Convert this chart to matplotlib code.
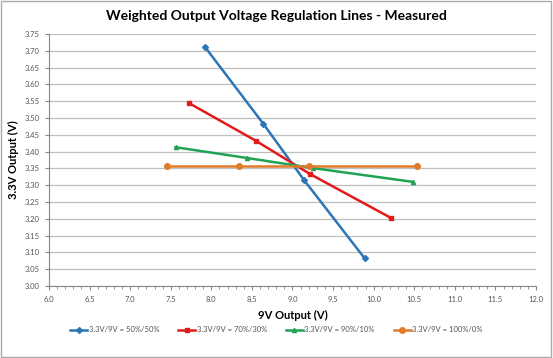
import matplotlib
matplotlib.use("Agg")
import matplotlib.pyplot as plt
from matplotlib.ticker import MultipleLocator, FormatStrFormatter
from matplotlib.patches import Rectangle

plt.rcParams["font.family"] = ["Lato", "DejaVu Sans"]

# Measured points (9V output, 3.3V output)
x_50 = [7.92, 8.64, 9.14, 9.89]
y_50 = [3.712, 3.483, 3.316, 3.082]
x_70 = [7.72, 8.55, 9.21, 10.21]
y_70 = [3.545, 3.432, 3.334, 3.203]
x_90 = [7.56, 8.44, 9.25, 10.48]
y_90 = [3.413, 3.381, 3.351, 3.310]
x_100 = [7.45, 8.34, 9.20, 10.54]
y_100 = [3.357, 3.357, 3.357, 3.357]

series = [
    (x_50, y_50, "3.3V/9V = 50%/50%", "#2E75B6", "D", 3),
    (x_70, y_70, "3.3V/9V = 70%/30%", "#E31A1C", "s", 3.5),
    (x_90, y_90, "3.3V/9V = 90%/10%", "#21A354", "^", 3),
    (x_100, y_100, "3.3V/9V = 100%/0%", "#E07B2A", "o", 4),
]

fig = plt.figure(figsize=(5.53, 3.58), dpi=100)
ax = fig.add_axes([49 / 553, 1 - 286 / 358, 487 / 553, 252 / 358])

for xs, ys, label, color, marker, ms in series:
    ax.plot(xs, ys, color=color, lw=1.8, marker=marker, ms=ms, label=label)

ax.set_xlim(6.0, 12.0)
ax.set_ylim(3.00, 3.75)
ax.xaxis.set_major_locator(MultipleLocator(0.5))
ax.xaxis.set_minor_locator(MultipleLocator(0.1))
ax.yaxis.set_major_locator(MultipleLocator(0.05))
ax.xaxis.set_major_formatter(FormatStrFormatter("%.1f"))
ax.yaxis.set_major_formatter(FormatStrFormatter("%.2f"))
ax.grid(axis="y", color="#BFBFBF", lw=0.9)
ax.set_axisbelow(True)
for side in ["top", "right"]:
    ax.spines[side].set_visible(False)
for side in ["left", "bottom"]:
    ax.spines[side].set_color("#888888")
ax.tick_params(axis="both", which="major", labelsize=5.5, colors="#888888",
               labelcolor="#555555", length=3)
ax.tick_params(axis="x", which="minor", length=2, colors="#888888")
ax.tick_params(axis="x", direction="out", pad=4)

ax.set_xlabel("9V Output (V)", fontsize=8, fontweight="bold", labelpad=5)
ax.set_ylabel("3.3V Output (V)", fontsize=8, fontweight="bold", labelpad=4)
fig.text(0.5, 1 - 16 / 358, "Weighted Output Voltage Regulation Lines - Measured",
         ha="center", va="center", fontsize=10, fontweight="bold")

fig.legend(loc="center", bbox_to_anchor=(0.5, 1 - 330 / 358), ncol=4,
           frameon=False, fontsize=5.5, handlelength=2.2, columnspacing=2.5,
           handletextpad=0.2, labelcolor="#555555")

fig.patches.append(Rectangle((0.002, 0.003), 0.995, 0.994, transform=fig.transFigure,
                             fill=False, edgecolor="#AAAAAA", lw=1))

fig.savefig("out.png", dpi=100)
